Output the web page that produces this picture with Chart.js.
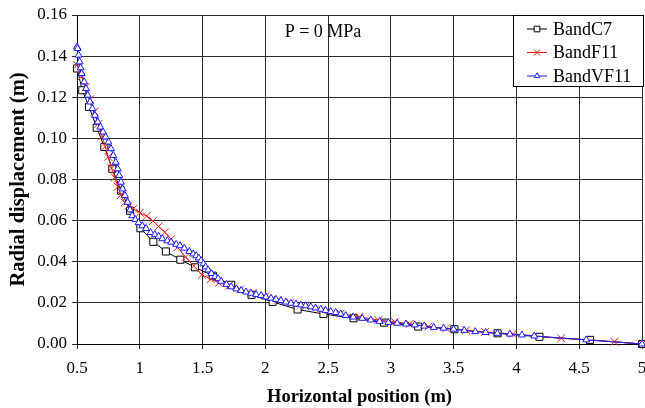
<!DOCTYPE html>
<html>
<head>
<meta charset="utf-8">
<script src="https://cdn.jsdelivr.net/npm/chart.js@4/dist/chart.umd.min.js"></script>
<style>
html,body{margin:0;padding:0;background:#fff;}
#wrap{width:645px;height:408px;position:relative;}
</style>
</head>
<body>
<div id="wrap"><canvas id="c" width="645" height="408"></canvas></div>
<script>
// ---- data ----
const seriesNames = ["BandC7", "BandF11", "BandVF11"];
const xTickValues = [0.5, 1, 1.5, 2, 2.5, 3, 3.5, 4, 4.5, 5];
const xTickLabels = ["0.5", "1", "1.5", "2", "2.5", "3", "3.5", "4", "4.5", "5"];
const yTickValues = [0, 0.02, 0.04, 0.06, 0.08, 0.10, 0.12, 0.14, 0.16];
const yTickLabels = ["0.00", "0.02", "0.04", "0.06", "0.08", "0.10", "0.12", "0.14", "0.16"];
const annotationText = "P = 0 MPa";

const c7X = [0.5, 0.542, 0.596, 0.657, 0.718, 0.781, 0.85, 0.922, 1.005, 1.108, 1.208, 1.323, 1.44, 1.582, 1.728, 1.89, 2.058, 2.257, 2.463, 2.703, 2.946, 3.217, 3.506, 3.85, 4.183, 4.586, 5.0];
const c7Y = [0.134, 0.1234, 0.1153, 0.1052, 0.0958, 0.0852, 0.0746, 0.0648, 0.0563, 0.0497, 0.045, 0.041, 0.0373, 0.0332, 0.0288, 0.0239, 0.0205, 0.0168, 0.0146, 0.0125, 0.0104, 0.0085, 0.0072, 0.0052, 0.0035, 0.002, 0.0];

const f11X = [0.5, 0.535, 0.57, 0.605, 0.64, 0.67, 0.7, 0.725, 0.75, 0.775, 0.8, 0.825, 0.85, 0.88, 0.91, 0.95, 1.0, 1.055, 1.105, 1.15, 1.2, 1.25, 1.3, 1.365, 1.43, 1.495, 1.565, 1.63, 1.71, 1.8, 1.9, 2.0, 2.1, 2.2, 2.32, 2.45, 2.6, 2.75, 2.9, 3.03, 3.15, 3.3, 3.44, 3.6, 3.75, 3.97, 4.356, 4.78, 5.0];
const f11Y = [0.1356, 0.130, 0.125, 0.119, 0.113, 0.107, 0.101, 0.096, 0.091, 0.0855, 0.081, 0.0765, 0.0725, 0.0688, 0.0672, 0.0658, 0.0638, 0.0622, 0.0598, 0.0572, 0.0543, 0.051, 0.047, 0.0423, 0.038, 0.0337, 0.0315, 0.0298, 0.0283, 0.0266, 0.0248, 0.0232, 0.0215, 0.0200, 0.0183, 0.0165, 0.0148, 0.0132, 0.0117, 0.0108, 0.0098, 0.0085, 0.0076, 0.0068, 0.0059, 0.0049, 0.0028, 0.0011, 0.0];

const vf11X = [0.5, 0.505, 0.513, 0.521, 0.529, 0.537, 0.558, 0.572, 0.585, 0.604, 0.622, 0.643, 0.665, 0.686, 0.707, 0.728, 0.75, 0.771, 0.789, 0.808, 0.824, 0.837, 0.85, 0.864, 0.882, 0.903, 0.922, 0.94, 0.965, 0.99, 1.02, 1.05, 1.086, 1.12, 1.15, 1.18, 1.22, 1.25, 1.29, 1.32, 1.355, 1.395, 1.425, 1.449, 1.47, 1.489, 1.507, 1.524, 1.545, 1.57, 1.6, 1.624, 1.648, 1.69, 1.728, 1.77, 1.807, 1.846, 1.886, 1.926, 1.966, 2.005, 2.045, 2.085, 2.124, 2.164, 2.204, 2.244, 2.283, 2.32, 2.362, 2.4, 2.442, 2.48, 2.521, 2.56, 2.6, 2.64, 2.7, 2.772, 2.84, 2.91, 2.98, 3.05, 3.12, 3.19, 3.265, 3.341, 3.42, 3.5, 3.585, 3.672, 3.754, 3.848, 3.947, 4.043, 4.142, 4.556, 5.0];
const vf11Y = [0.1445, 0.1437, 0.1405, 0.1372, 0.1343, 0.1315, 0.1275, 0.1242, 0.121, 0.1177, 0.1145, 0.1112, 0.108, 0.1055, 0.1031, 0.1007, 0.0982, 0.095, 0.0917, 0.0884, 0.0852, 0.082, 0.0787, 0.0754, 0.0722, 0.0689, 0.0652, 0.0624, 0.0605, 0.059, 0.0575, 0.0562, 0.0542, 0.0532, 0.0524, 0.0512, 0.0502, 0.0495, 0.0485, 0.0478, 0.0466, 0.045, 0.0438, 0.0429, 0.0418, 0.0405, 0.039, 0.0375, 0.036, 0.0343, 0.0328, 0.0318, 0.0305, 0.029, 0.0278, 0.0268, 0.026, 0.0253, 0.0247, 0.0241, 0.0236, 0.0229, 0.0223, 0.0217, 0.0211, 0.0204, 0.0198, 0.0194, 0.019, 0.0186, 0.0181, 0.0175, 0.0169, 0.0163, 0.0158, 0.0153, 0.0146, 0.0138, 0.0131, 0.0125, 0.0117, 0.011, 0.0105, 0.0101, 0.0097, 0.0093, 0.0087, 0.0081, 0.0077, 0.0072, 0.0066, 0.006, 0.0056, 0.0052, 0.0048, 0.0044, 0.0039, 0.002, 0.0];

// ---- chart ----
const SERIF = '"Liberation Serif", "Times New Roman", Times, serif';
function pts(xs, ys) { return xs.map((x, i) => ({x: x, y: ys[i]})); }

const styles = [
  {color: '#000000', point: 'rect', radius: 5, fill: '#ffffff', order: 2},
  {color: '#e8201c', point: 'crossRot', radius: 5.5, fill: '#e8201c', order: 1},
  {color: '#1a1aff', point: 'triangle', radius: 4, fill: '#ffffff', order: 0}
];
const seriesData = [pts(c7X, c7Y), pts(f11X, f11Y), pts(vf11X, vf11Y)];

const datasets = seriesNames.map((name, i) => ({
  label: name,
  data: seriesData[i],
  borderColor: styles[i].color,
  backgroundColor: styles[i].fill,
  borderWidth: 1,
  pointStyle: styles[i].point,
  pointRadius: styles[i].radius,
  pointBorderColor: styles[i].color,
  pointBackgroundColor: styles[i].fill,
  pointBorderWidth: 1,
  pointHoverRadius: styles[i].radius,
  tension: 0,
  order: styles[i].order,
  clip: false
}));

function drawMarker(ctx, style, x, y, r) {
  ctx.save();
  ctx.strokeStyle = style.color;
  ctx.fillStyle = style.fill;
  ctx.lineWidth = 1;
  ctx.beginPath();
  if (style.point === 'rect') {
    const s = Math.SQRT1_2 * r;
    ctx.rect(x - s, y - s, 2 * s, 2 * s);
    ctx.fill(); ctx.stroke();
  } else if (style.point === 'triangle') {
    ctx.moveTo(x, y - r);
    ctx.lineTo(x + r * Math.cos(Math.PI / 6), y + r * 0.5);
    ctx.lineTo(x - r * Math.cos(Math.PI / 6), y + r * 0.5);
    ctx.closePath();
    ctx.fill(); ctx.stroke();
  } else {
    const d = r * Math.SQRT1_2;
    ctx.moveTo(x - d, y - d); ctx.lineTo(x + d, y + d);
    ctx.moveTo(x + d, y - d); ctx.lineTo(x - d, y + d);
    ctx.stroke();
  }
  ctx.restore();
}

const overlay = {
  id: 'overlay',
  afterDraw(chart) {
    const ctx = chart.ctx;
    const area = chart.chartArea;
    // annotation
    ctx.save();
    ctx.fillStyle = '#000';
    ctx.font = '18px ' + SERIF;
    ctx.textAlign = 'center';
    ctx.textBaseline = 'middle';
    ctx.fillText(annotationText, area.left + 246, area.top + 17);
    ctx.restore();
    // legend box
    const bx = area.right - 129, by = area.top, bw = 131, bh = 72;
    ctx.save();
    ctx.fillStyle = '#fff';
    ctx.fillRect(bx, by, bw, bh);
    ctx.strokeStyle = '#000';
    ctx.lineWidth = 1;
    ctx.strokeRect(bx + 0.5, by + 0.5, bw - 1, bh - 1);
    ctx.font = '18px ' + SERIF;
    ctx.textAlign = 'left';
    ctx.textBaseline = 'middle';
    seriesNames.forEach((name, i) => {
      const yy = by + 14 + i * 23.5;
      ctx.strokeStyle = styles[i].color;
      ctx.lineWidth = 1;
      ctx.beginPath();
      ctx.moveTo(bx + 14, yy);
      ctx.lineTo(bx + 34, yy);
      ctx.stroke();
      drawMarker(ctx, styles[i], bx + 24, yy, styles[i].radius * 0.8);
      ctx.fillStyle = '#000';
      ctx.fillText(name, bx + 40, yy + 1);
    });
    ctx.restore();
  }
};

new Chart(document.getElementById('c'), {
  type: 'line',
  data: {datasets: datasets},
  options: {
    responsive: false,
    animation: false,
    events: [],
    layout: {autoPadding: false, padding: {top: 15, right: 3, left: 0, bottom: 0}},
    plugins: {legend: {display: false}, tooltip: {enabled: false}},
    scales: {
      x: {
        type: 'linear',
        min: 0.5, max: 5,
        afterBuildTicks: (s) => { s.ticks = xTickValues.map(v => ({value: v})); },
        afterFit: (s) => { s.height = 64; s.paddingLeft = 0; s.paddingRight = 0; },
        ticks: {
          callback: (v, i) => xTickLabels[i],
          font: {family: SERIF, size: 17},
          color: '#000',
          padding: 9,
          maxRotation: 0,
          autoSkip: false
        },
        grid: {color: '#2a2a2a', lineWidth: 1, tickLength: 5, drawTicks: true},
        border: {color: '#000', width: 1},
        title: {
          display: true,
          text: 'Horizontal position (m)',
          font: {family: SERIF, size: 18.5, weight: 'bold'},
          color: '#000',
          padding: {top: 0, bottom: 0}
        }
      },
      y: {
        type: 'linear',
        min: 0, max: 0.16,
        afterBuildTicks: (s) => { s.ticks = yTickValues.map(v => ({value: v})); },
        afterFit: (s) => { s.width = 77; s.paddingTop = 0; s.paddingBottom = 0; },
        ticks: {
          callback: (v, i) => yTickLabels[i],
          font: {family: SERIF, size: 17},
          color: '#000',
          padding: 5,
          autoSkip: false
        },
        grid: {color: '#2a2a2a', lineWidth: 1, tickLength: 5, drawTicks: true},
        border: {color: '#000', width: 1},
        title: {
          display: true,
          text: 'Radial displacement (m)',
          font: {family: SERIF, size: 20.5, weight: 'bold'},
          color: '#000',
          padding: {top: 6, bottom: 0}
        }
      }
    }
  },
  plugins: [overlay]
});
</script>
</body>
</html>
